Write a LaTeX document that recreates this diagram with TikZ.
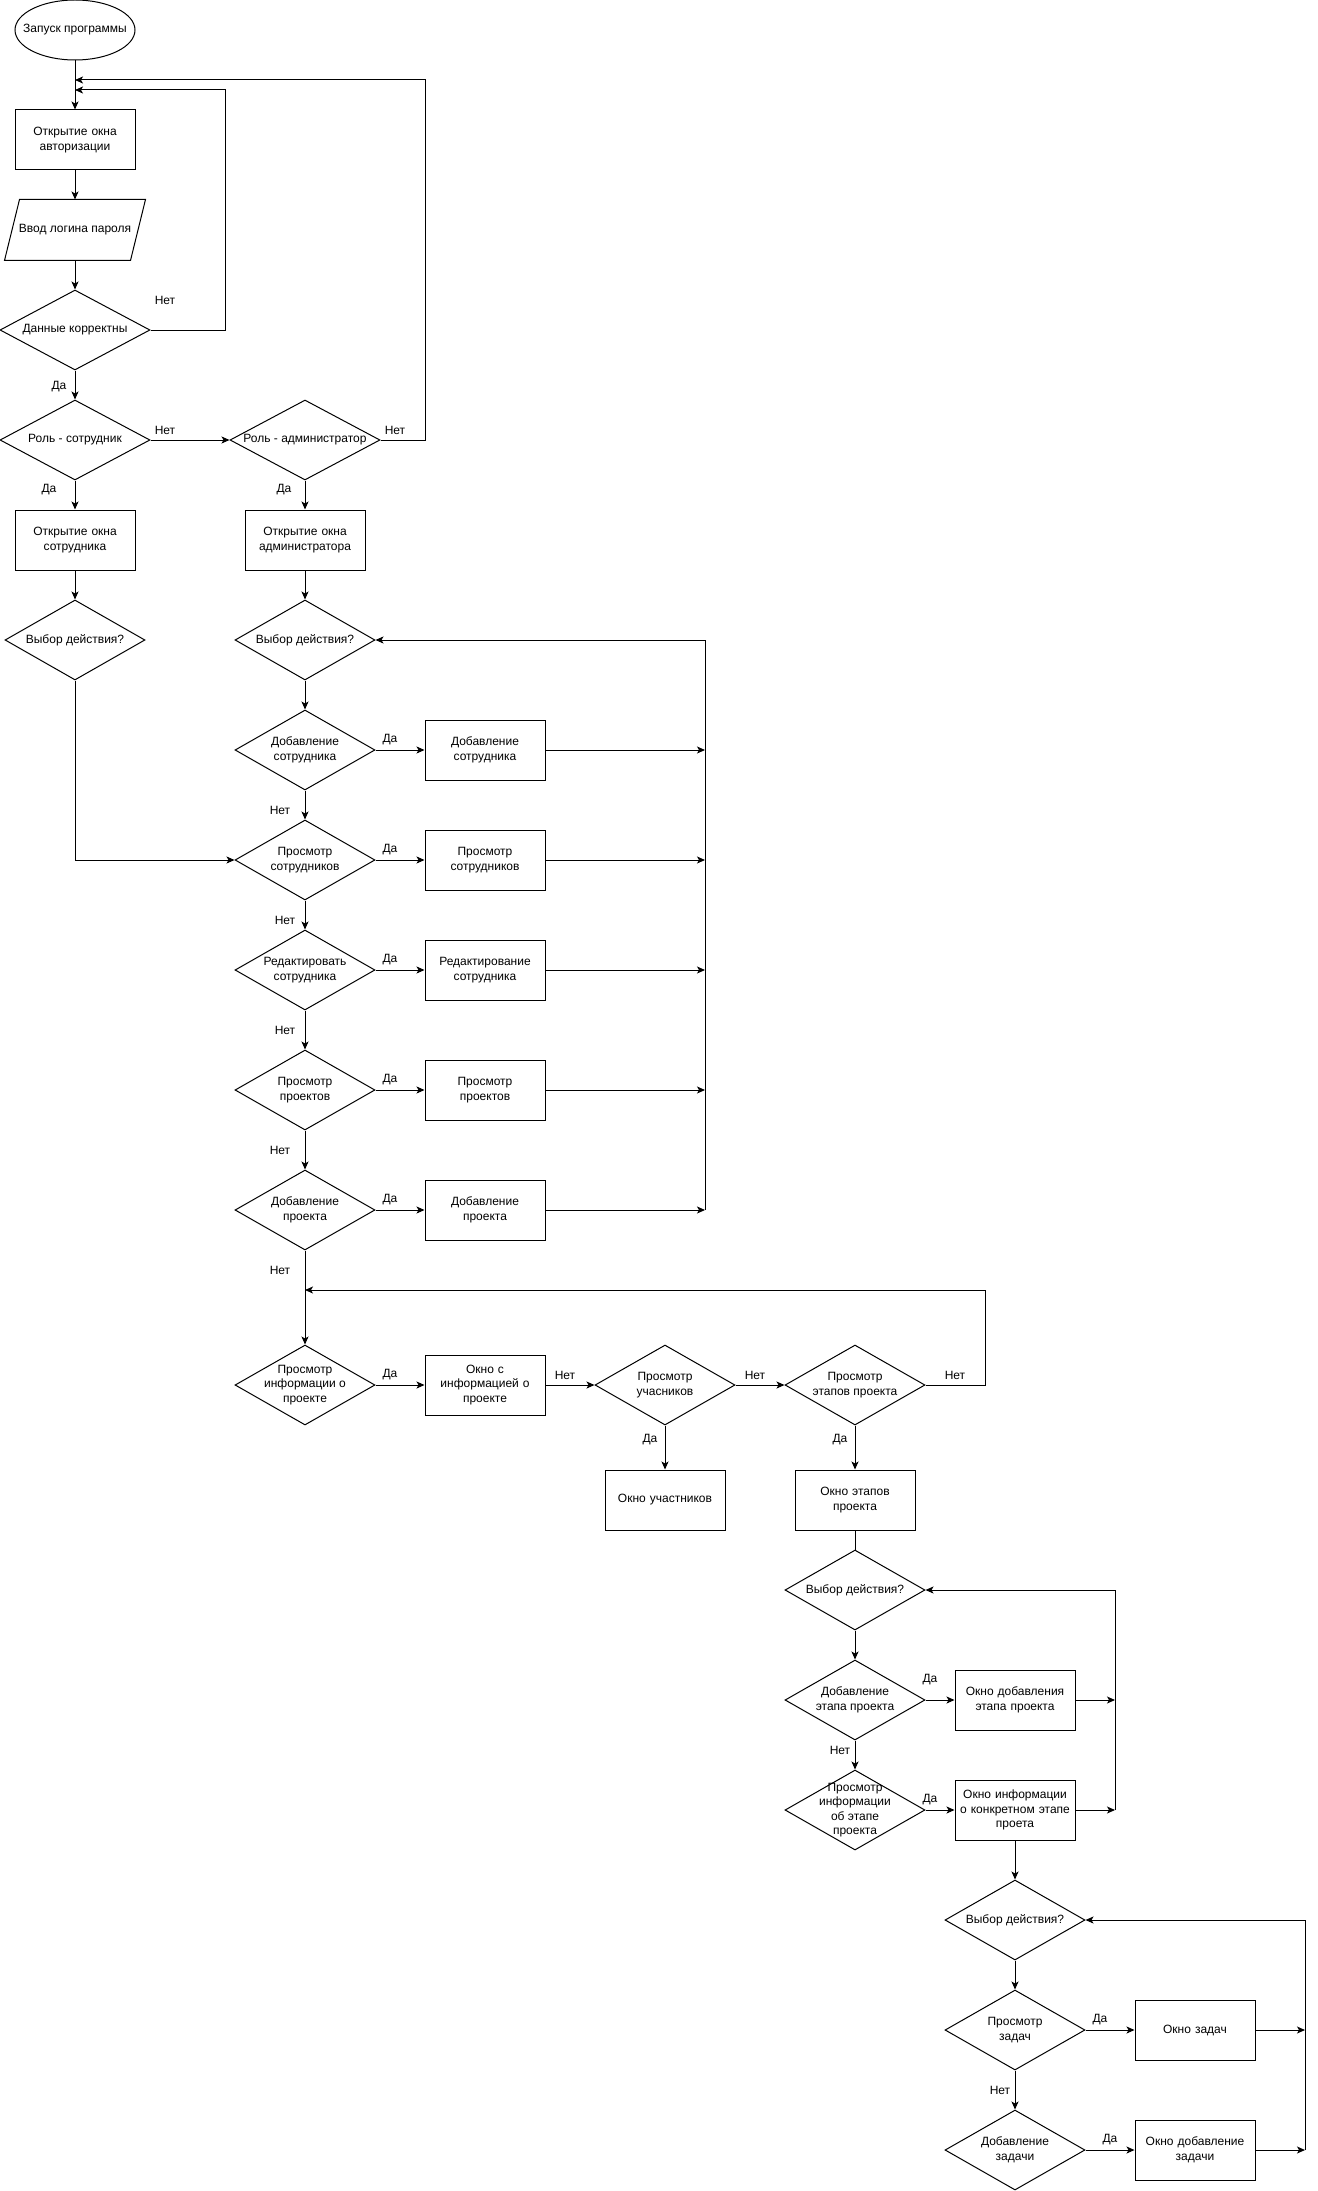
\documentclass[tikz,border=0pt]{standalone}
\usepackage{fontspec}
\setmainfont{Liberation Sans}
\usetikzlibrary{shapes.geometric,arrows.meta}

\tikzset{
  txt/.style={align=center, inner sep=0pt},
  term/.style={ellipse, draw, minimum width=120, minimum height=60, inner sep=0pt, label={[txt]center:{#1}}},
  proc/.style={rectangle, draw, minimum width=120, minimum height=60, text width=118, align=center, inner sep=0pt},
  io/.style={rectangle, minimum width=140, minimum height=60, inner sep=0pt},
  dec/.style={diamond, draw, minimum width=140, minimum height=80, inner sep=0pt, label={[txt]center:{#1}}},
  wdec/.style={dec=#1, minimum width=150},
  ans/.style={inner sep=0pt},
}

\begin{document}
\begin{tikzpicture}[x=1pt, y=-1pt, line width=1pt, font=\fontsize{12}{14.5}\selectfont,
  >={Stealth[length=8pt,width=7pt,inset=2pt]}]
    \useasboundingbox (0,0) rectangle (1317,2191);
    % ノード (авторизация)
    \node[term={Запуск программы}] (start) at (75,30) {};
    \node[proc] (auth) at (75,140) {Открытие окна\\авторизации};
    \node[io] (login) at (75,230) {Ввод логина пароля};
    \draw ([xshift=15pt]login.north west) -- (login.north east)
      -- ([xshift=-15pt]login.south east) -- (login.south west) -- cycle;
    \node[wdec={Данные корректны}] (check) at (75,330) {};
    \node[wdec={Роль - сотрудник}] (roleE) at (75,440) {};
    \node[wdec={Роль - администратор}] (roleA) at (305,440) {};
    \node[proc] (winE) at (75,540) {Открытие окна\\сотрудника};
    \node[proc] (winA) at (305,540) {Открытие окна\\администратора};
    \node[dec={Выбор действия?}] (choiceE) at (75,640) {};
    \node[dec={Выбор действия?}] (choiceA) at (305,640) {};
    % ノード (администратор)
    \node[dec={Добавление\\сотрудника}] (addEmp) at (305,750) {};
    \node[dec={Просмотр\\сотрудников}] (viewEmp) at (305,860) {};
    \node[dec={Редактировать\\сотрудника}] (editEmp) at (305,970) {};
    \node[dec={Просмотр\\проектов}] (viewProj) at (305,1090) {};
    \node[dec={Добавление\\проекта}] (addProj) at (305,1210) {};
    \node[dec={Просмотр\\информации о\\проекте}] (infoProj) at (305,1385) {};
    \node[proc] (addEmpW) at (485,750) {Добавление\\сотрудника};
    \node[proc] (viewEmpW) at (485,860) {Просмотр\\сотрудников};
    \node[proc] (editEmpW) at (485,970) {Редактирование\\сотрудника};
    \node[proc] (viewProjW) at (485,1090) {Просмотр\\проектов};
    \node[proc] (addProjW) at (485,1210) {Добавление\\проекта};
    \node[proc] (infoProjW) at (485,1385) {Окно с\\информацией о\\проекте};
    \node[dec={Просмотр\\учасников}] (members) at (665,1385) {};
    \node[dec={Просмотр\\этапов проекта}] (stages) at (855,1385) {};
    \node[proc] (membersW) at (665,1500) {Окно участников};
    \node[proc] (stagesW) at (855,1500) {Окно этапов\\проекта};
    % ノード (этапы и задачи)
    \node[dec={Выбор действия?}] (choiceS) at (855,1590) {};
    \node[dec={Добавление\\этапа проекта}] (addStage) at (855,1700) {};
    \node[dec={Просмотр\\информации\\об этапе\\проекта}] (stageInfo) at (855,1810) {};
    \node[proc] (addStageW) at (1015,1700) {Окно добавления\\этапа проекта};
    \node[proc] (stageInfoW) at (1015,1810) {Окно информации\\о конкретном этапе\\проета};
    \node[dec={Выбор действия?}] (choiceT) at (1015,1920) {};
    \node[dec={Просмотр\\задач}] (viewTask) at (1015,2030) {};
    \node[dec={Добавление\\задачи}] (addTask) at (1015,2150) {};
    \node[proc] (taskW) at (1195,2030) {Окно задач};
    \node[proc] (addTaskW) at (1195,2150) {Окно добавление\\задачи};
    % 座標
    \coordinate (back1) at (75,90);
    \coordinate (back2) at (75,80);
    \coordinate (c1) at (225,90);
    \coordinate (c2) at (425,80);
    \coordinate (r1) at (705,1210);
    \coordinate (back3) at (305,1290);
    \coordinate (c3) at (985,1290);
    \coordinate (r2) at (1115,1810);
    \coordinate (r3) at (1305,2150);
    % 矢印
    \draw[->] (start) -- (auth);
    \draw[->] (auth) -- (login);
    \draw[->] (login) -- (check);
    \draw[->] (check) -- (roleE);
    \draw[->] (check.east) -| (c1) -- (back1);
    \draw[->] (roleE) -- (roleA);
    \draw[->] (roleA.east) -| (c2) -- (back2);
    \draw[->] (roleE) -- (winE);
    \draw[->] (roleA) -- (winA);
    \draw[->] (winE) -- (choiceE);
    \draw[->] (winA) -- (choiceA);
    \draw[->] (choiceE.south) |- (viewEmp.west);
    \draw[->] (choiceA) -- (addEmp);
    \draw[->] (addEmp) -- (viewEmp);
    \draw[->] (viewEmp) -- (editEmp);
    \draw[->] (editEmp) -- (viewProj);
    \draw[->] (viewProj) -- (addProj);
    \draw[->] (addProj) -- (infoProj);
    \draw[->] (addEmp) -- (addEmpW);
    \draw[->] (viewEmp) -- (viewEmpW);
    \draw[->] (editEmp) -- (editEmpW);
    \draw[->] (viewProj) -- (viewProjW);
    \draw[->] (addProj) -- (addProjW);
    \draw[->] (addEmpW.east) -- (addEmpW.east -| r1);
    \draw[->] (viewEmpW.east) -- (viewEmpW.east -| r1);
    \draw[->] (editEmpW.east) -- (editEmpW.east -| r1);
    \draw[->] (viewProjW.east) -- (viewProjW.east -| r1);
    \draw[->] (addProjW.east) -- (r1);
    \draw[->] (r1) |- (choiceA.east);
    \draw[->] (infoProj) -- (infoProjW);
    \draw[->] (infoProjW) -- (members);
    \draw[->] (members) -- (stages);
    \draw[->] (members) -- (membersW);
    \draw[->] (stages) -- (stagesW);
    \draw[->] (stages.east) -| (c3) -- (back3);
    \draw (stagesW) -- (choiceS);
    \draw[->] (choiceS) -- (addStage);
    \draw[->] (addStage) -- (addStageW);
    \draw[->] (addStage) -- (stageInfo);
    \draw[->] (stageInfo) -- (stageInfoW);
    \draw[->] (addStageW.east) -- (addStageW.east -| r2);
    \draw[->] (stageInfoW.east) -- (r2);
    \draw[->] (r2) |- (choiceS.east);
    \draw[->] (stageInfoW) -- (choiceT);
    \draw[->] (choiceT) -- (viewTask);
    \draw[->] (viewTask) -- (taskW);
    \draw[->] (viewTask) -- (addTask);
    \draw[->] (addTask) -- (addTaskW);
    \draw[->] (taskW.east) -- (taskW.east -| r3);
    \draw[->] (addTaskW.east) -- (r3);
    \draw[->] (r3) |- (choiceT.east);
    % Да / Нет
    \node[ans] (no1) at (165,300) {Нет};
    \node[ans] (yes1) at (59,387) {Да};
    \node[ans] (no2) at (165,430) {Нет};
    \node[ans] (no3) at (395,430) {Нет};
    \node[ans] (yes2) at (49,490) {Да};
    \node[ans] (yes3) at (284,490) {Да};
    \node[ans] (yes4) at (390,740) {Да};
    \node[ans] (no4) at (280,810) {Нет};
    \node[ans] (yes5) at (390,850) {Да};
    \node[ans] (no5) at (285,920) {Нет};
    \node[ans] (yes6) at (390,960) {Да};
    \node[ans] (no6) at (285,1030) {Нет};
    \node[ans] (yes7) at (390,1080) {Да};
    \node[ans] (no7) at (280,1150) {Нет};
    \node[ans] (yes8) at (390,1200) {Да};
    \node[ans] (no8) at (280,1270) {Нет};
    \node[ans] (yes9) at (390,1375) {Да};
    \node[ans] (no9) at (565,1375) {Нет};
    \node[ans] (no10) at (755,1375) {Нет};
    \node[ans] (no11) at (955,1375) {Нет};
    \node[ans] (yes10) at (650,1440) {Да};
    \node[ans] (yes11) at (840,1440) {Да};
    \node[ans] (yes12) at (930,1680) {Да};
    \node[ans] (no12) at (840,1750) {Нет};
    \node[ans] (yes13) at (930,1800) {Да};
    \node[ans] (yes14) at (1100,2020) {Да};
    \node[ans] (no13) at (1000,2090) {Нет};
    \node[ans] (yes15) at (1110,2140) {Да};
\end{tikzpicture}
\end{document}
